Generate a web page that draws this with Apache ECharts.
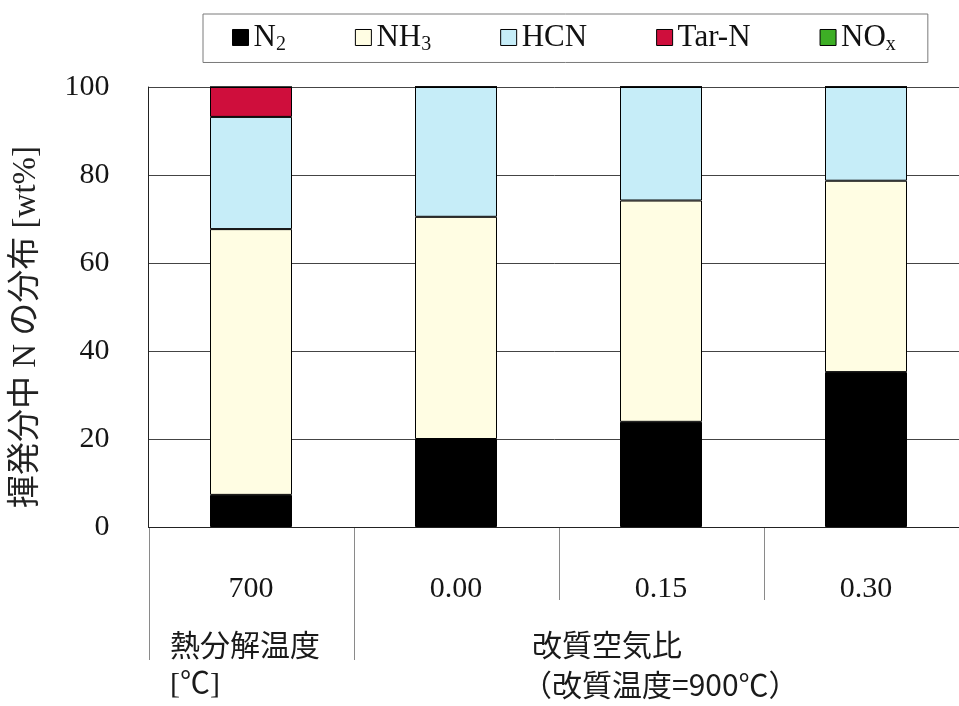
<!DOCTYPE html>
<html>
<head>
<meta charset="utf-8">
<script src="https://cdn.jsdelivr.net/npm/echarts@6/dist/echarts.min.js"></script>
<style>
  html, body { margin: 0; padding: 0; background: #fff; }
  #chart { width: 959px; height: 706px; }
</style>
</head>
<body>
<div id="chart"></div>
<script>
// Distribution of nitrogen in volatiles [wt%]
const categories = ['700', '0.00', '0.15', '0.30'];
const seriesNames = ['N2', 'NH3', 'HCN', 'Tar-N', 'NOx'];
const n2   = [7.3, 20.0, 23.9, 35.2];
const nh3  = [60.4, 50.5, 50.3, 43.5];
const hcn  = [25.5, 29.5, 25.8, 21.3];
const tarN = [6.8, 0, 0, 0];
const nox  = [0, 0, 0, 0];
const yTicks = [0, 20, 40, 60, 80, 100];

const colors = {
  'N2': '#000000',
  'NH3': '#FFFDE3',
  'HCN': '#C6EDF8',
  'Tar-N': '#CF0E3C',
  'NOx': '#3DAE25'
};
// legend labels with subscripts
const legendRich = {
  'N2': '{t|N}{s|2}',
  'NH3': '{t|NH}{s|3}',
  'HCN': '{t|HCN}',
  'Tar-N': '{t|Tar-N}',
  'NOx': '{t|NO}{s|x}'
};

const serif = '"Liberation Serif", "Times New Roman", "Noto Sans CJK JP", serif';
const jp = '"Noto Sans CJK JP", sans-serif';

const values = [n2, nh3, hcn, tarN, nox];

const chart = echarts.init(document.getElementById('chart'), null, { renderer: 'canvas' });

const option = {
  backgroundColor: '#ffffff',
  animation: false,
  legend: {
    data: seriesNames,
    left: 203,
    top: 14,
    orient: 'horizontal',
    padding: [8, 32, 8, 29],
    borderColor: '#7a7a7a',
    borderWidth: 1,
    itemWidth: 16,
    itemHeight: 16,
    itemGap: 69,
    icon: 'rect',
    itemStyle: { borderColor: '#000', borderWidth: 1 },
    formatter: name => legendRich[name],
    textStyle: {
      color: '#111',
      rich: {
        t: { fontFamily: serif, fontSize: 31, color: '#111' },
        s: { fontFamily: serif, fontSize: 20, color: '#111', padding: [14, 0, 0, 0] }
      }
    }
  },
  grid: { left: 148.5, width: 820, top: 87, height: 440, containLabel: false, outerBoundsMode: 'none' },
  xAxis: {
    type: 'category',
    data: categories,
    axisLine: { show: true, lineStyle: { color: '#222', width: 1 } },
    axisTick: { show: false },
    axisLabel: { margin: 47, fontFamily: serif, fontSize: 30, color: '#151515' },
    splitLine: { show: false }
  },
  yAxis: {
    type: 'value',
    min: yTicks[0],
    max: yTicks[yTicks.length - 1],
    interval: yTicks[1] - yTicks[0],
    name: '揮発分中 N の分布 [wt%]',
    nameLocation: 'middle',
    nameGap: 106,
    nameRotate: 90,
    nameTextStyle: { fontFamily: serif, fontSize: 33, color: '#222', padding: [0, 40, 0, 0] },
    axisLine: { show: true, lineStyle: { color: '#222', width: 1 } },
    axisTick: { show: false },
    axisLabel: { margin: 39, fontFamily: serif, fontSize: 30, color: '#151515' },
    splitLine: { show: true, lineStyle: { color: '#444', width: 1 } }
  },
  series: seriesNames.map((name, i) => ({
    name: name,
    type: 'bar',
    stack: 'total',
    barWidth: 82,
    data: values[i],
    itemStyle: { color: colors[name], borderColor: '#000', borderWidth: 1 }
  }))
};

chart.setOption(option);

// Table-style separators under the category axis and group captions
function drawTable() {
  const centers = categories.map((c, i) => chart.convertToPixel({ xAxisIndex: 0 }, i));
  const step = centers[1] - centers[0];
  const yBase = chart.convertToPixel({ yAxisIndex: 0 }, 0);
  const bounds = [centers[0] - step / 2];
  for (let i = 0; i < centers.length - 1; i++) bounds.push((centers[i] + centers[i + 1]) / 2);
  const lineLen = [133, 133, 73, 73];
  const elements = bounds.map((x, i) => ({
    type: 'line',
    shape: { x1: Math.round(x) + 0.5, y1: yBase, x2: Math.round(x) + 0.5, y2: yBase + lineLen[i] },
    style: { stroke: '#8a8a8a', lineWidth: 1 },
    silent: true
  }));
  const textStyle = { fill: '#1a1a1a', fontSize: 30, fontFamily: jp, textVerticalAlign: 'middle' };
  elements.push(
    { type: 'text', left: 170, top: 630, style: Object.assign({ text: '熱分解温度' }, textStyle) },
    { type: 'text', left: 170, top: 670, style: Object.assign({ text: '[℃]' }, textStyle, { fontFamily: serif }) },
    { type: 'text', left: 532, top: 630, style: Object.assign({ text: '改質空気比' }, textStyle) },
    { type: 'text', left: 522, top: 670, style: Object.assign({ text: '（改質温度=900℃）' }, textStyle) }
  );
  chart.setOption({ graphic: { elements: elements } });
}
drawTable();
</script>
</body>
</html>
